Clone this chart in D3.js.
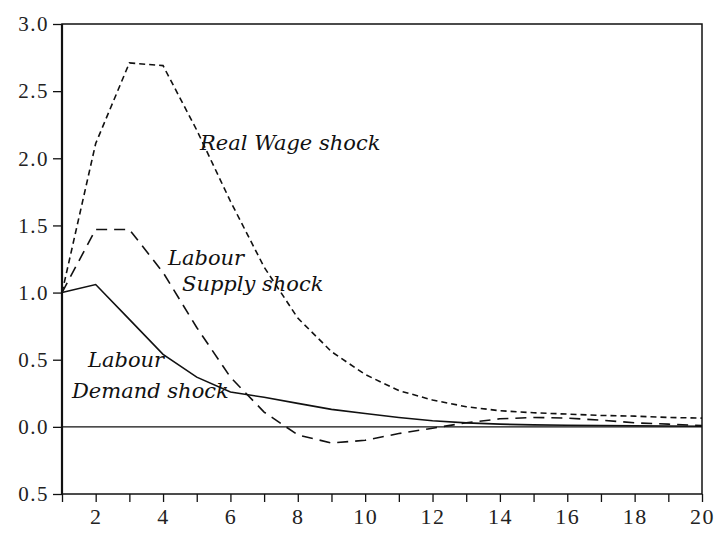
<!DOCTYPE html>
<html>
<head>
  <meta charset="utf-8">
  <script src="https://d3js.org/d3.v7.min.js"></script>
  <style>
    body { margin: 0; background: #fff; }
  </style>
</head>
<body>
<script>
var periods = d3.range(1, 21);
var realWage = [1.0, 2.11, 2.71, 2.69, 2.21, 1.68, 1.19, 0.81, 0.56, 0.39, 0.27, 0.20, 0.15, 0.12, 0.105, 0.095, 0.085, 0.08, 0.07, 0.065];
var labourSupply = [1.0, 1.47, 1.47, 1.15, 0.74, 0.37, 0.11, -0.06, -0.12, -0.10, -0.05, -0.01, 0.03, 0.06, 0.07, 0.065, 0.05, 0.03, 0.02, 0.01];
var labourDemand = [1.0, 1.06, 0.80, 0.54, 0.37, 0.26, 0.22, 0.175, 0.13, 0.10, 0.07, 0.045, 0.03, 0.02, 0.015, 0.012, 0.01, 0.008, 0.006, 0.005];
var yTicks = [-0.5, 0, 0.5, 1.0, 1.5, 2.0, 2.5, 3.0];
var yTickLabels = ["0.5", "0.0", "0.5", "1.0", "1.5", "2.0", "2.5", "3.0"];
var xTickLabels = [2, 4, 6, 8, 10, 12, 14, 16, 18, 20];

var svg_w = 719, svg_h = 533;
var plotL = 62, plotR = 702, plotT = 24, plotB = 494;

var svg = d3.select("body").append("svg")
  .attr("width", svg_w)
  .attr("height", svg_h);

var x = d3.scaleLinear().domain([1, 20]).range([plotL, plotR]);
var y = d3.scaleLinear().domain([-0.5, 3.0]).range([plotB, plotT]);

// frame
svg.append("rect")
  .attr("x", plotL).attr("y", plotT)
  .attr("width", plotR - plotL).attr("height", plotB - plotT)
  .attr("fill", "none").attr("stroke", "#111").attr("stroke-width", 1.5);
svg.append("line")
  .attr("x1", plotL).attr("x2", plotL).attr("y1", plotT).attr("y2", plotB)
  .attr("stroke", "#111").attr("stroke-width", 2.2);

// zero line
svg.append("line")
  .attr("x1", plotL).attr("x2", plotR)
  .attr("y1", y(0)).attr("y2", y(0))
  .attr("stroke", "#111").attr("stroke-width", 1.3);

// y axis
var yAxis = d3.axisLeft(y)
  .tickValues(yTicks)
  .tickSize(9)
  .tickPadding(4)
  .tickFormat(function(d, i) { return yTickLabels[i]; });
var gy = svg.append("g")
  .attr("transform", "translate(" + plotL + ",0)")
  .call(yAxis);
gy.select(".domain").remove();
gy.selectAll("line").attr("stroke", "#111").attr("stroke-width", 1.3);
gy.selectAll("text")
  .attr("fill", "#222")
  .style("font-family", "'Liberation Serif', serif")
  .style("font-size", "21px")
  .style("letter-spacing", "1.5px");

// x axis
var xAxis = d3.axisBottom(x)
  .tickValues(periods)
  .tickSize(8)
  .tickPadding(6)
  .tickFormat(function(d) { return xTickLabels.indexOf(d) >= 0 ? d : ""; });
var gx = svg.append("g")
  .attr("transform", "translate(0," + plotB + ")")
  .call(xAxis);
gx.select(".domain").remove();
gx.selectAll("line").attr("stroke", "#111").attr("stroke-width", 1.3);
gx.selectAll("text")
  .attr("fill", "#222")
  .style("font-family", "'Liberation Serif', serif")
  .style("font-size", "22px")
  .style("letter-spacing", "1.5px");

var line = d3.line()
  .x(function(d, i) { return x(periods[i]); })
  .y(function(d) { return y(d); });

svg.append("path").datum(realWage)
  .attr("d", line)
  .attr("fill", "none").attr("stroke", "#111")
  .attr("stroke-width", 1.6).attr("stroke-dasharray", "6,4");

svg.append("path").datum(labourSupply)
  .attr("d", line)
  .attr("fill", "none").attr("stroke", "#111")
  .attr("stroke-width", 1.6).attr("stroke-dasharray", "11,7");

svg.append("path").datum(labourDemand)
  .attr("d", line)
  .attr("fill", "none").attr("stroke", "#111")
  .attr("stroke-width", 1.6);

// labels
var labels = [
  { t: "Real Wage shock", x: 200, y: 150 },
  { t: "Labour", x: 168, y: 265 },
  { t: "Supply shock", x: 182, y: 291 },
  { t: "Labour", x: 88, y: 367 },
  { t: "Demand shock", x: 72, y: 398 }
];
svg.selectAll("text.lab").data(labels).enter().append("text")
  .attr("class", "lab")
  .attr("x", function(d) { return d.x; })
  .attr("y", function(d) { return d.y; })
  .style("font-family", "'DejaVu Serif', serif")
  .style("font-size", "21px")
  .style("font-style", "italic")
  .attr("fill", "#111")
  .text(function(d) { return d.t; });
</script>
</body>
</html>
